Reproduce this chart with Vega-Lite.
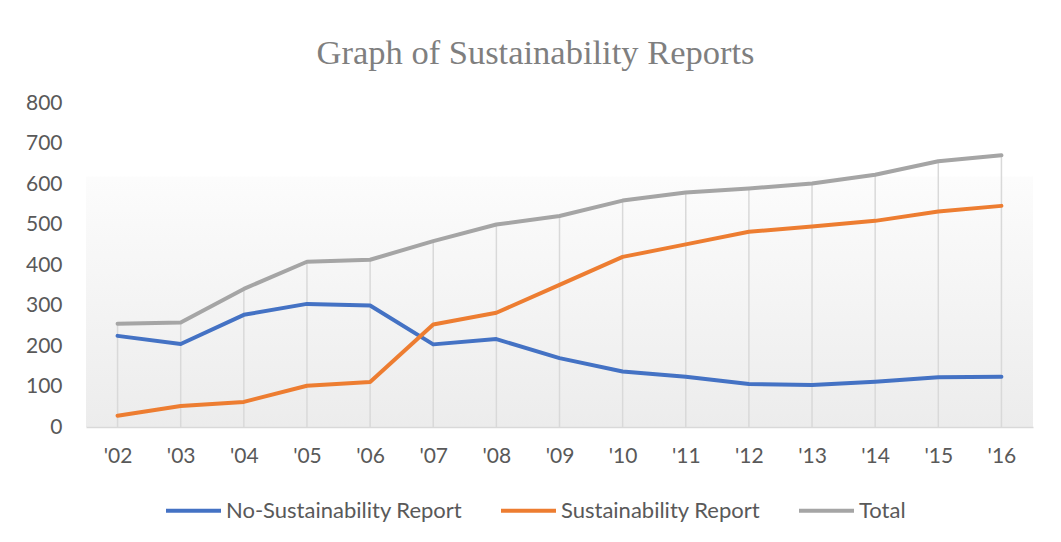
{
  "$schema": "https://vega.github.io/schema/vega-lite/v6.json",
  "width": 947,
  "height": 324,
  "autosize": {"type": "none"},
  "padding": {"left": 86, "top": 103, "right": 28, "bottom": 115},
  "background": "white",
  "title": {
    "text": "Graph of Sustainability Reports",
    "font": "Liberation Serif",
    "fontSize": 34.5,
    "fontWeight": "normal",
    "color": "#7f7f7f",
    "anchor": "middle",
    "dx": -24,
    "baseline": "alphabetic",
    "offset": -6
  },
  "config": {
    "view": {
      "stroke": null,
      "fill": {
        "gradient": "linear",
        "x1": 0, "y1": 0, "x2": 0, "y2": 1,
        "stops": [
          {"offset": 0, "color": "#ffffff"},
          {"offset": 0.225, "color": "#ffffff"},
          {"offset": 0.23, "color": "#fcfcfc"},
          {"offset": 1, "color": "#ececec"}
        ]
      }
    },
    "font": "Lato"
  },
  "data": {
    "values": [
      {"year": "'02", "series": "No-Sustainability Report", "value": 225},
      {"year": "'03", "series": "No-Sustainability Report", "value": 205},
      {"year": "'04", "series": "No-Sustainability Report", "value": 277},
      {"year": "'05", "series": "No-Sustainability Report", "value": 304},
      {"year": "'06", "series": "No-Sustainability Report", "value": 300},
      {"year": "'07", "series": "No-Sustainability Report", "value": 204},
      {"year": "'08", "series": "No-Sustainability Report", "value": 217},
      {"year": "'09", "series": "No-Sustainability Report", "value": 170},
      {"year": "'10", "series": "No-Sustainability Report", "value": 137},
      {"year": "'11", "series": "No-Sustainability Report", "value": 124},
      {"year": "'12", "series": "No-Sustainability Report", "value": 106},
      {"year": "'13", "series": "No-Sustainability Report", "value": 104},
      {"year": "'14", "series": "No-Sustainability Report", "value": 112},
      {"year": "'15", "series": "No-Sustainability Report", "value": 123},
      {"year": "'16", "series": "No-Sustainability Report", "value": 124},
      {"year": "'02", "series": "Sustainability Report", "value": 28},
      {"year": "'03", "series": "Sustainability Report", "value": 52},
      {"year": "'04", "series": "Sustainability Report", "value": 62},
      {"year": "'05", "series": "Sustainability Report", "value": 102},
      {"year": "'06", "series": "Sustainability Report", "value": 111},
      {"year": "'07", "series": "Sustainability Report", "value": 253},
      {"year": "'08", "series": "Sustainability Report", "value": 282},
      {"year": "'09", "series": "Sustainability Report", "value": 351},
      {"year": "'10", "series": "Sustainability Report", "value": 420},
      {"year": "'11", "series": "Sustainability Report", "value": 451},
      {"year": "'12", "series": "Sustainability Report", "value": 482},
      {"year": "'13", "series": "Sustainability Report", "value": 495},
      {"year": "'14", "series": "Sustainability Report", "value": 509},
      {"year": "'15", "series": "Sustainability Report", "value": 532},
      {"year": "'16", "series": "Sustainability Report", "value": 546},
      {"year": "'02", "series": "Total", "value": 255},
      {"year": "'03", "series": "Total", "value": 258},
      {"year": "'04", "series": "Total", "value": 341},
      {"year": "'05", "series": "Total", "value": 408},
      {"year": "'06", "series": "Total", "value": 413},
      {"year": "'07", "series": "Total", "value": 459},
      {"year": "'08", "series": "Total", "value": 500},
      {"year": "'09", "series": "Total", "value": 521},
      {"year": "'10", "series": "Total", "value": 559},
      {"year": "'11", "series": "Total", "value": 579},
      {"year": "'12", "series": "Total", "value": 589},
      {"year": "'13", "series": "Total", "value": 601},
      {"year": "'14", "series": "Total", "value": 623},
      {"year": "'15", "series": "Total", "value": 656},
      {"year": "'16", "series": "Total", "value": 671}
    ]
  },
  "encoding": {
    "x": {
      "field": "year",
      "type": "ordinal",
      "sort": null,
      "scale": {"type": "point", "padding": 0.5},
      "axis": {
        "title": null,
        "labelAngle": 0,
        "labelFont": "Lato",
        "labelFontSize": 21,
        "labelColor": "#595959",
        "labelPadding": 18,
        "ticks": false,
        "domainColor": "#d9d9d9",
        "domainWidth": 1.5,
        "grid": false
      }
    }
  },
  "layer": [
    {
      "transform": [{"filter": "datum.series === 'Total'"}],
      "mark": {"type": "rule", "color": "#d9d9d9", "strokeWidth": 1.5},
      "encoding": {
        "y": {"field": "value", "type": "quantitative"},
        "y2": {"datum": 0}
      }
    },
    {
      "mark": {"type": "line", "strokeWidth": 4, "strokeCap": "round", "strokeJoin": "round"},
      "encoding": {
        "y": {
          "field": "value",
          "type": "quantitative",
          "scale": {"domain": [0, 800], "nice": false},
          "axis": {
            "title": null,
            "values": [0, 100, 200, 300, 400, 500, 600, 700, 800],
            "labelFont": "Lato",
            "labelFontSize": 21,
            "labelColor": "#595959",
            "labelPadding": 24,
            "ticks": false,
            "domain": false,
            "grid": false
          }
        },
        "color": {
          "field": "series",
          "type": "nominal",
          "scale": {
            "domain": ["No-Sustainability Report", "Sustainability Report", "Total"],
            "range": ["#4472c4", "#ed7d31", "#a5a5a5"]
          },
          "legend": {
            "title": null,
            "orient": "none",
            "direction": "horizontal",
            "legendX": 78,
            "legendY": 378,
            "symbolType": "stroke",
            "symbolSize": 3025,
            "symbolStrokeWidth": 4,
            "labelFont": "Lato",
            "labelFontSize": 22,
            "labelColor": "#595959",
            "labelOffset": 3,
            "labelLimit": 0,
            "columnPadding": 30
          }
        }
      }
    }
  ]
}
